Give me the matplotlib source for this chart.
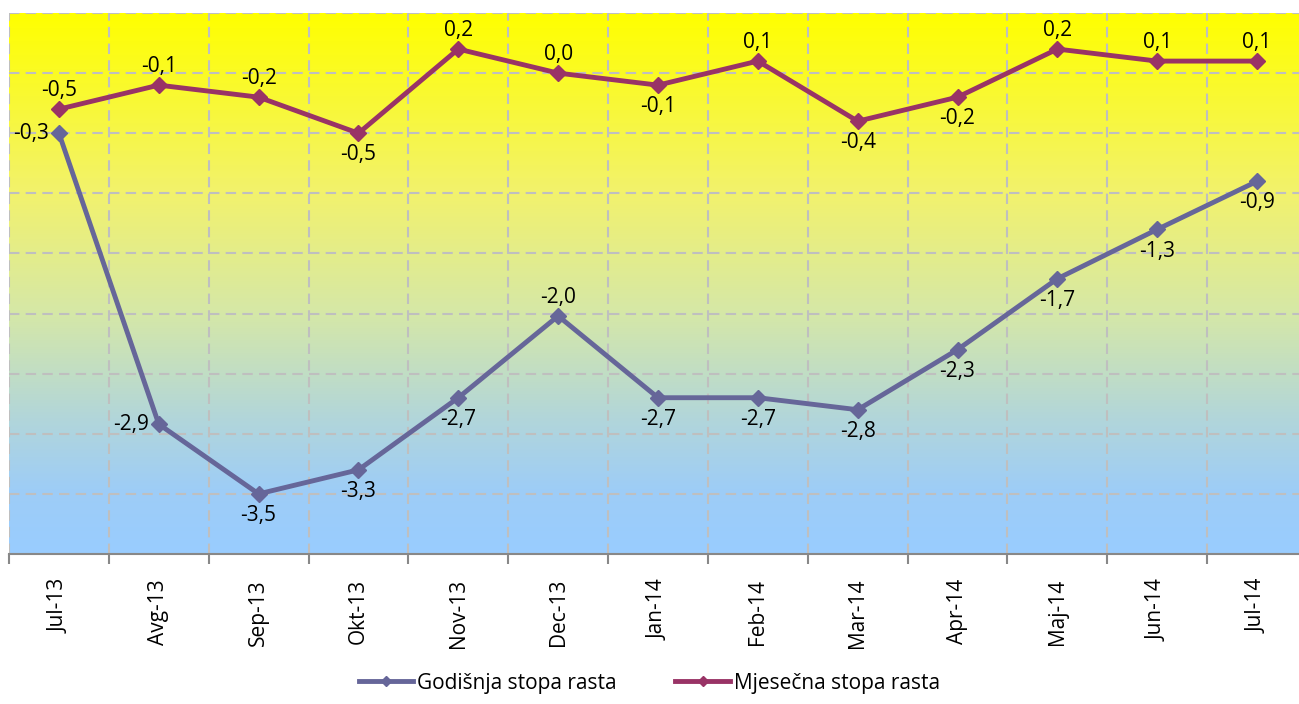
import numpy as np
import matplotlib.pyplot as plt
from matplotlib.colors import LinearSegmentedColormap

# Podaci
meseci = ['Jul-13', 'Avg-13', 'Sep-13', 'Okt-13', 'Nov-13', 'Dec-13', 'Jan-14',
          'Feb-14', 'Mar-14', 'Apr-14', 'Maj-14', 'Jun-14', 'Jul-14']
godisnja = [-0.5, -2.92, -3.5, -3.3, -2.7, -2.02, -2.7, -2.7, -2.8, -2.3, -1.71, -1.3, -0.9]
godisnja_labele = ['-0,3', '-2,9', '-3,5', '-3,3', '-2,7', '-2,0', '-2,7', '-2,7', '-2,8',
                   '-2,3', '-1,7', '-1,3', '-0,9']
mjesecna = [-0.3, -0.1, -0.2, -0.5, 0.2, 0.0, -0.1, 0.1, -0.4, -0.2, 0.2, 0.1, 0.1]
mjesecna_labele = ['-0,5', '-0,1', '-0,2', '-0,5', '0,2', '0,0', '-0,1', '0,1', '-0,4',
                   '-0,2', '0,2', '0,1', '0,1']

plt.rcParams['font.family'] = ['Open Sans', 'DejaVu Sans']

fig = plt.figure(figsize=(12.99, 7.04), dpi=100)
ax = fig.add_axes([9 / 1299, 1 - 554 / 704, 1298 / 1299, 541 / 704])

x = np.arange(len(meseci))
ax.set_xlim(-0.5, len(meseci) - 0.5)
ax.set_ylim(-4.0, 0.5)

# pozadina sa gradijentom
cmap = LinearSegmentedColormap.from_list('bg', [
    (0.0, '#FFFF00'), (0.33, '#F2F26C'), (0.55, '#D6E8A6'),
    (0.75, '#B2D6DA'), (0.88, '#9ECDF6'), (1.0, '#99CCFF')])
grad = np.linspace(0, 1, 256).reshape(-1, 1)
ax.imshow(grad, cmap=cmap, aspect='auto', extent=(-0.5, len(meseci) - 0.5, -4.0, 0.5),
          origin='upper', zorder=0)

# mreza
for yv in np.arange(-4.0, 0.51, 0.5):
    ax.axhline(yv, color='#BFBFBF', lw=1.5, ls=(0, (5, 3)), zorder=1)
for xv in np.arange(-0.5, len(meseci), 1):
    ax.axvline(xv, color='#BFBFBF', lw=1.5, ls=(0, (5, 3)), zorder=1)

ax.plot(x, godisnja, color='#666699', lw=3.5, marker='D', ms=8, zorder=3,
        label='Godišnja stopa rasta')
ax.plot(x, mjesecna, color='#993366', lw=3.5, marker='D', ms=8, zorder=3,
        label='Mjesečna stopa rasta')

fs = 15
for i, (v, t) in enumerate(zip(mjesecna, mjesecna_labele)):
    if v <= -0.35 or meseci[i] in ('Jan-14', 'Apr-14'):
        ax.annotate(t, (i, v), xytext=(0, -8), textcoords='offset points',
                    ha='center', va='top', fontsize=fs, zorder=4)
    else:
        ax.annotate(t, (i, v), xytext=(0, 6), textcoords='offset points',
                    ha='center', va='bottom', fontsize=fs, zorder=4)

for i, (v, t) in enumerate(zip(godisnja, godisnja_labele)):
    if i in (0, 1):
        ax.annotate(t, (i, v), xytext=(-7, 0), textcoords='offset points',
                    ha='right', va='center', fontsize=fs, zorder=4)
    elif i == 5:
        ax.annotate(t, (i, v), xytext=(0, 6), textcoords='offset points',
                    ha='center', va='bottom', fontsize=fs, zorder=4)
    else:
        ax.annotate(t, (i, v), xytext=(0, -8), textcoords='offset points',
                    ha='center', va='top', fontsize=fs, zorder=4)

ax.set_xticks(x)
ax.set_xticklabels(meseci, rotation=90, fontsize=15)
ax.tick_params(axis='x', length=0, pad=18)
ax.set_xticks(np.arange(-0.5, len(meseci), 1), minor=True)
ax.tick_params(axis='x', which='minor', length=7, color='#888888', width=1.5)
ax.set_yticks([])
for s in ['top', 'right', 'left']:
    ax.spines[s].set_visible(False)
ax.spines['bottom'].set_color('#888888')
ax.spines['bottom'].set_linewidth(1.5)

fig.legend(loc='lower center', bbox_to_anchor=(0.5, -0.012), ncol=2, frameon=False,
           fontsize=15, handlelength=2.6, handletextpad=0.2, columnspacing=2.8,
           markerscale=0.7)

fig.savefig('out.png', dpi=100)
